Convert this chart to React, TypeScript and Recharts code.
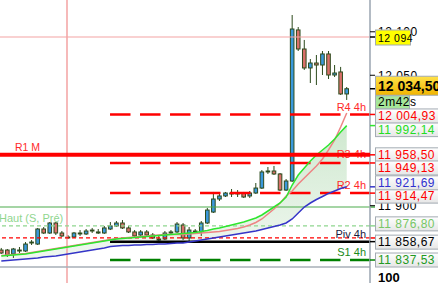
import { Area, Bar, ComposedChart, Line, ReferenceLine, XAxis, YAxis } from 'recharts';

// candles, oldest first (one every 15 min)
const opens = [11849.0, 11849.0, 11844.5, 11847.9, 11847.9, 11857.1, 11855.9, 11873.2, 11868.6, 11880.1, 11868.6, 11864.0, 11864.0, 11867.5, 11867.5, 11870.9, 11868.6, 11868.6, 11873.2, 11876.7, 11880.1, 11874.4, 11869.8, 11866.3, 11869.8, 11866.3, 11860.5, 11861.7, 11868.6, 11869.8, 11877.8, 11862.9, 11869.8, 11869.8, 11880.1, 11892.7, 11907.7, 11911.2, 11913.5, 11914.6, 11914.6, 11911.2, 11914.6, 11920.3, 11938.8, 11939.9, 11936.5, 11918.0, 11928.4, 12102.1, 12080.2, 12058.4, 12064.1, 12061.8, 12074.5, 12050.3, 12053.8, 12028.5];
const closes = [11845.6, 11843.3, 11850.2, 11849.0, 11855.9, 11858.2, 11873.2, 11868.6, 11880.1, 11868.6, 11865.2, 11862.9, 11868.6, 11868.6, 11870.9, 11872.0, 11869.8, 11874.4, 11876.7, 11880.1, 11874.4, 11869.8, 11865.2, 11869.8, 11866.3, 11862.9, 11861.7, 11868.6, 11869.8, 11878.9, 11862.9, 11872.0, 11870.9, 11880.1, 11895.0, 11907.7, 11911.2, 11914.6, 11914.6, 11913.5, 11910.0, 11914.6, 11920.3, 11938.8, 11939.9, 11936.5, 11918.0, 11928.4, 12103.2, 12080.2, 12058.4, 12064.1, 12061.8, 12074.5, 12050.3, 12052.6, 12028.5, 12034.5];
const highs = [11851.4, 11850.2, 11851.4, 11852.5, 11858.2, 11860.5, 11874.4, 11875.5, 11881.2, 11881.2, 11870.9, 11866.3, 11869.8, 11872.0, 11873.2, 11874.4, 11873.2, 11876.7, 11881.2, 11882.4, 11883.5, 11876.7, 11872.0, 11872.0, 11872.0, 11868.6, 11865.2, 11870.9, 11872.0, 11881.2, 11880.1, 11875.5, 11873.2, 11882.4, 11897.4, 11915.8, 11913.5, 11915.8, 11919.2, 11918.0, 11915.8, 11916.9, 11926.1, 11941.0, 11944.5, 11945.7, 11937.6, 11930.7, 12119.3, 12105.5, 12090.6, 12068.7, 12073.3, 12077.9, 12077.9, 12061.8, 12059.6, 12036.5];
const lows = [11844.5, 11841.0, 11839.9, 11845.6, 11846.8, 11854.8, 11854.8, 11867.5, 11867.5, 11866.3, 11864.0, 11862.3, 11862.9, 11865.2, 11866.3, 11868.6, 11867.5, 11867.5, 11872.0, 11875.5, 11873.2, 11868.6, 11864.0, 11865.2, 11864.0, 11861.7, 11859.4, 11860.5, 11866.3, 11868.6, 11860.5, 11858.2, 11868.6, 11865.2, 11878.9, 11891.6, 11905.4, 11910.0, 11910.0, 11910.0, 11908.9, 11908.9, 11913.5, 11919.2, 11936.5, 11935.3, 11916.9, 11916.9, 11927.3, 12077.9, 12056.1, 12041.1, 12038.8, 12050.3, 12045.7, 12048.0, 12027.4, 12021.6];

// moving averages
const maGreen = [11842.2, 11842.7, 11843.3, 11843.9, 11844.5, 11845.6, 11846.8, 11847.9, 11849.0, 11850.2, 11851.4, 11852.5, 11853.7, 11854.8, 11855.9, 11857.1, 11858.2, 11859.4, 11860.5, 11861.7, 11862.3, 11862.9, 11863.4, 11864.0, 11864.6, 11865.2, 11865.7, 11866.3, 11866.9, 11867.5, 11868.0, 11868.6, 11869.2, 11870.3, 11871.5, 11873.2, 11874.4, 11876.1, 11877.8, 11879.5, 11881.2, 11883.5, 11885.8, 11889.3, 11893.9, 11898.5, 11903.1, 11910.0, 11923.8, 11935.3, 11943.4, 11951.4, 11958.3, 11964.1, 11969.8, 11976.7, 11984.8, 11992.1];
const maPink = [11842.7, 11843.3, 11843.9, 11844.5, 11845.0, 11846.2, 11847.3, 11848.5, 11849.6, 11850.8, 11851.9, 11853.1, 11854.2, 11855.4, 11856.5, 11857.7, 11858.8, 11860.0, 11861.1, 11862.3, 11862.9, 11863.4, 11864.0, 11864.6, 11865.2, 11865.7, 11866.3, 11866.9, 11866.9, 11866.9, 11866.9, 11867.5, 11868.0, 11868.6, 11869.2, 11869.8, 11870.3, 11871.5, 11872.6, 11873.8, 11875.5, 11877.8, 11880.7, 11884.7, 11890.5, 11896.2, 11903.1, 11911.2, 11916.9, 11924.9, 11931.9, 11938.8, 11945.7, 11953.7, 11964.1, 11975.6, 11990.5, 12006.6];
const maBlue = [11836.4, 11837.0, 11837.6, 11838.1, 11838.7, 11839.3, 11839.8, 11841.0, 11841.6, 11842.2, 11843.3, 11844.5, 11845.6, 11846.8, 11847.9, 11849.0, 11850.2, 11851.4, 11853.1, 11853.6, 11854.2, 11854.2, 11854.8, 11854.8, 11855.4, 11855.4, 11855.9, 11855.9, 11856.5, 11857.1, 11857.1, 11858.2, 11859.4, 11860.5, 11861.7, 11862.9, 11864.0, 11865.2, 11866.3, 11867.5, 11868.6, 11869.8, 11870.9, 11872.6, 11874.4, 11876.1, 11877.8, 11880.1, 11884.7, 11891.6, 11898.5, 11903.1, 11907.1, 11910.6, 11914.1, 11916.9, 11919.8, 11921.7];

// price levels
const r4 = 12004.93;
const r3 = 11949.13;
const r2 = 11914.47;
const piv = 11858.67;
const s1 = 11837.53;
const r1m = 11958.5;
const hautPrev = 11876.8;
const redDotted = 11862.9;
const greenLine = 11898.5;
const crossPrice = 12094;
const crossBar = 10.84;
const pivotStart = 17.94;
const lastPrice = 12034.5;
const paneSplit = 11829.5;
const axisTicks = [12100, 12050, 11900];

const X_DOMAIN: [number, number] = [-0.215, 60.84];
const Y_DOMAIN: [number, number] = [11811.1, 12136.55];

const FONT = '"Liberation Sans", Arial, sans-serif';
const WICK = '#2c4a1c';
const UP = '#3a98dc';
const DOWN = '#d9706a';
const RED = '#ff0000';

const data = opens.map((open, i) => ({
  i,
  open,
  close: closes[i],
  high: highs[i],
  low: lows[i],
  range: [lows[i], highs[i]],
  green: maGreen[i],
  pink: maPink[i],
  blue: maBlue[i],
  band: [maBlue[i], maGreen[i]],
}));

const fmtPrice = (v: number) => {
  const s = Math.round(v).toString();
  return s.slice(0, s.length - 3) + ' ' + s.slice(-3);
};

const Candle = (props: any) => {
  const { x, y, width, height, payload } = props;
  if (x == null || y == null) return null;
  const top = Math.min(y, y + height);
  const h = Math.abs(height);
  const { open, close, high, low } = payload;
  const toY = (v: number) => top + ((high - v) / (high - low)) * h;
  const cx = x + width / 2;
  const bTop = toY(Math.max(open, close));
  const bBot = toY(Math.min(open, close));
  return (
    <g>
      <line x1={cx} x2={cx} y1={top} y2={top + h} stroke={WICK} strokeWidth={1} />
      <rect
        x={cx - 1.8}
        y={bTop}
        width={3.6}
        height={Math.max(bBot - bTop, 0.8)}
        fill={close >= open ? UP : DOWN}
        stroke={WICK}
        strokeWidth={1}
      />
    </g>
  );
};

type Tag = {
  text: string;
  color: string;
  dy?: number;
  bg?: string;
  bold?: boolean;
  size?: number;
  w?: number;
  h?: number;
  tick?: string;
  noBox?: boolean;
};
type Name = { text: string; color: string; left?: number; size?: number; lift?: number };

const level = (tag?: Tag, name?: Name, tick?: string) => (props: any) => {
  const vb = props.viewBox || {};
  const left = vb.x;
  const right = vb.x + vb.width;
  const ly = vb.y;
  const out: any[] = [];
  if (name) {
    const atLeft = name.left != null;
    out.push(
      <text
        key="n"
        x={atLeft ? left + (name.left as number) : right - 4}
        y={ly - (name.lift ?? 4)}
        textAnchor={atLeft ? 'start' : 'end'}
        fill={name.color}
        fontSize={name.size ?? 11}
        fontFamily={FONT}
      >
        {name.text}
      </text>
    );
  }
  if (tick) {
    out.push(<line key="t" x1={right} x2={right + 5} y1={ly} y2={ly} stroke={tick} strokeWidth={1.5} />);
  }
  if (tag) {
    const cy = ly + (tag.dy ?? 0);
    const h = tag.h ?? 14;
    if (tag.tick) out.push(<line key="tt" x1={right} x2={right + 5} y1={ly} y2={ly} stroke={tag.tick} strokeWidth={1.5} />);
    if (!tag.noBox) {
      out.push(
        <rect key="b" x={right + 5.5} y={cy - h / 2} width={tag.w ?? 70} height={h} fill={tag.bg ?? 'url(#tagBg)'} stroke="#a3abb3" strokeWidth={1} />
      );
    }
    out.push(
      <text
        key="x"
        x={right + 8}
        y={cy}
        dominantBaseline="central"
        fill={tag.color}
        fontSize={tag.size ?? 12}
        fontWeight={tag.bold ? 700 : 400}
        fontFamily={FONT}
        letterSpacing={tag.bold ? 0 : 0.5}
      >
        {tag.text}
      </text>
    );
  }
  return <g>{out}</g>;
};

const seg = (v: number) => [
  { x: pivotStart, y: v },
  { x: X_DOMAIN[1], y: v },
];

const layer: any = { position: 'absolute', left: 0, top: 0 };

export default function App() {
  return (
    <div style={{ position: 'absolute', left: 0, top: 0, width: 438, height: 283, background: '#fff', overflow: 'hidden' }}>
      {/* price pane */}
      <div style={layer}>
        <ComposedChart width={438} height={283} data={data} margin={{ top: 0, right: 0, bottom: 0, left: 0 }}>
          <defs>
            <linearGradient id="cloud" x1="0" y1="0" x2="0" y2="1">
              <stop offset="0" stopColor="#8cc98c" stopOpacity={0.7} />
              <stop offset="1" stopColor="#cfe6cf" stopOpacity={0.55} />
            </linearGradient>
          </defs>
          <XAxis dataKey="i" type="number" domain={X_DOMAIN} allowDataOverflow hide />
          <YAxis
            orientation="right"
            type="number"
            width={68}
            domain={Y_DOMAIN}
            allowDataOverflow
            ticks={axisTicks}
            interval={0}
            tickFormatter={fmtPrice}
            tick={{ fill: '#000', fontSize: 12, fontFamily: FONT, letterSpacing: 0.5 }}
            tickSize={5}
            tickMargin={3}
            tickLine={{ stroke: '#000' }}
            axisLine={{ stroke: '#9aa5b0', strokeWidth: 1.5 }}
          />

          <Area dataKey="band" type="linear" fill="url(#cloud)" stroke="none" isAnimationActive={false} />

          <ReferenceLine x={crossBar} stroke="#f3a3a3" strokeWidth={1.5} />
          <ReferenceLine y={crossPrice} stroke="#f3a3a3" strokeWidth={1.2} />
          <ReferenceLine y={paneSplit} stroke="#a7afb7" strokeWidth={1.5} label={level({ text: '100', color: '#000', bold: true, size: 13, noBox: true, dy: 10 })} />
          <ReferenceLine y={greenLine} stroke="#4cab4c" strokeWidth={1.2} label={level(undefined, undefined, '#4cab4c')} />
          <ReferenceLine
            y={hautPrev}
            stroke="#8fd68f"
            strokeWidth={1.2}
            strokeDasharray="4 3"
            label={level(undefined, { text: 'Haut (S, Pré)', color: '#8fd68f', left: -1, size: 11 })}
          />
          <ReferenceLine y={redDotted} stroke={RED} strokeWidth={1.2} strokeDasharray="4 3" label={level(undefined, undefined, RED)} />
          <ReferenceLine
            segment={seg(s1)}
            stroke="#008000"
            strokeWidth={2.5}
            strokeDasharray="20.5 9.5"
            label={level(undefined, { text: 'S1 4h', color: '#1a8a1a' })}
          />
          <ReferenceLine segment={seg(piv)} stroke="#000" strokeWidth={2.5} label={level(undefined, { text: 'Piv 4h', color: '#1a1a40' })} />
          <ReferenceLine
            segment={seg(r2)}
            stroke={RED}
            strokeWidth={2.5}
            strokeDasharray="20.5 9.5"
            label={level(undefined, { text: 'R2 4h', color: '#ff2a2a' })}
          />
          <ReferenceLine
            segment={seg(r3)}
            stroke={RED}
            strokeWidth={2.5}
            strokeDasharray="20.5 9.5"
            label={level(undefined, { text: 'R3 4h', color: '#ff2a2a', lift: 5 })}
          />
          <ReferenceLine
            segment={seg(r4)}
            stroke={RED}
            strokeWidth={2.5}
            strokeDasharray="20.5 9.5"
            label={level(undefined, { text: 'R4 4h', color: '#ff2a2a', lift: 3.5 })}
          />

          <Line dataKey="blue" type="linear" stroke="#3535c8" strokeWidth={1.5} dot={false} isAnimationActive={false} />
          <Line dataKey="pink" type="linear" stroke="#ee8484" strokeWidth={1.5} dot={false} isAnimationActive={false} />
          <Line dataKey="green" type="linear" stroke="#2ee62e" strokeWidth={1.5} dot={false} isAnimationActive={false} />

          <Bar dataKey="range" barSize={6} shape={<Candle />} isAnimationActive={false} />
        </ComposedChart>
      </div>

      {/* monthly R1 line and price tags, drawn over the pane and the axis ticks */}
      <div style={layer}>
        <ComposedChart width={438} height={283} data={data} margin={{ top: 0, right: 0, bottom: 0, left: 0 }}>
          <defs>
            <linearGradient id="tagBg" x1="0" y1="0" x2="0" y2="1">
              <stop offset="0" stopColor="#ffffff" />
              <stop offset="1" stopColor="#e6e6e6" />
            </linearGradient>
            <linearGradient id="goldBg" x1="0" y1="0" x2="0" y2="1">
              <stop offset="0" stopColor="#ffe24a" />
              <stop offset="1" stopColor="#f0b400" />
            </linearGradient>
          </defs>
          <XAxis dataKey="i" type="number" domain={X_DOMAIN} allowDataOverflow hide />
          <YAxis orientation="right" type="number" width={68} domain={Y_DOMAIN} allowDataOverflow tick={false} tickLine={false} axisLine={false} />
          <ReferenceLine
            y={r1m}
            stroke={RED}
            strokeWidth={4}
            label={level({ text: '11 958,50', color: RED, tick: RED }, { text: 'R1 M', color: '#ff2a2a', left: 15, size: 10.5, lift: 3.5 })}
          />
          <ReferenceLine y={hautPrev} stroke="none" label={level({ text: '11 876,80', color: '#77c766', dy: -2, tick: '#8fd68f' })} />
          <ReferenceLine y={s1} stroke="none" label={level({ text: '11 837,53', color: '#229922', tick: '#008000' })} />
          <ReferenceLine y={piv} stroke="none" label={level({ text: '11 858,67', color: '#000', dy: 0.5, tick: '#000' })} />
          <ReferenceLine y={r2} stroke="none" label={level({ text: '11 914,47', color: RED, dy: 3, tick: RED })} />
          <ReferenceLine y={maBlue[maBlue.length - 1]} stroke="none" label={level({ text: '11 921,69', color: '#3030d0', dy: -4, tick: '#3535c8' })} />
          <ReferenceLine y={r3} stroke="none" label={level({ text: '11 949,13', color: RED, dy: 5, tick: RED })} />
          <ReferenceLine y={maGreen[maGreen.length - 1]} stroke="none" label={level({ text: '11 992,14', color: '#22dd22', dy: 4, tick: '#2ee62e' })} />
          <ReferenceLine y={r4} stroke="none" label={level({ text: '12 004,93', color: RED, dy: 1.5, tick: RED })} />
          <ReferenceLine
            y={crossPrice}
            stroke="none"
            label={level({ text: '12 094', color: '#000', bg: '#ffff00', size: 10.5, w: 35, h: 15, dy: 0.5, tick: '#000' })}
          />
          <ReferenceLine
            y={lastPrice}
            stroke="none"
            label={level({ text: '12 034,50', color: '#000', bg: 'url(#goldBg)', bold: true, size: 14, h: 19, dy: -3, tick: '#000' })}
          />
          <ReferenceLine y={lastPrice} stroke="none" label={level({ text: '2m42s', color: '#000', bg: '#a6e69a', w: 34, h: 13, dy: 13.5 })} />
        </ComposedChart>
      </div>
    </div>
  );
}
